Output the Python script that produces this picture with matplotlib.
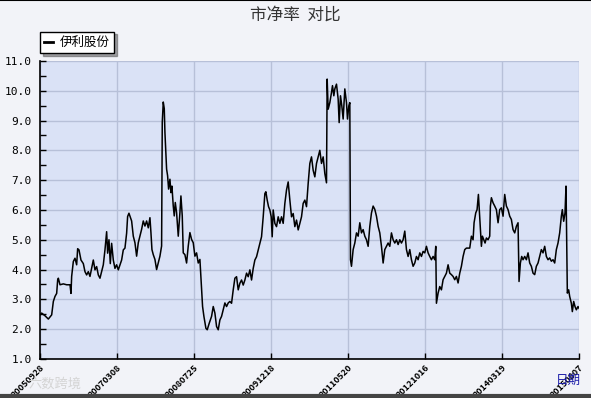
import numpy as np
import matplotlib
matplotlib.use("Agg")
import matplotlib.pyplot as plt
from matplotlib.lines import Line2D
from matplotlib.ticker import MultipleLocator

plt.rcParams['font.family'] = ['Noto Sans CJK SC', 'DejaVu Sans']

# trading-day index and price-to-book ratio, 伊利股份
days = [0, 5, 15, 25, 35, 40, 45, 50, 53, 55, 60, 70, 80, 90, 93, 95, 100, 105, 110, 113,
        117, 123, 130, 135, 140, 145, 150, 155, 160, 165, 170, 175, 180, 185, 190, 195, 200,
        203, 207, 211, 215, 220, 225, 230, 235, 240, 245, 250, 255, 260, 263, 267,
        275, 280, 285, 290, 295, 300, 305, 310, 315, 320, 325, 330, 333, 336, 340, 345, 350,
        355, 360, 365, 367, 370, 373, 375, 378, 380, 383, 386, 390, 393, 396, 400, 403, 406,
        410, 415, 420, 423, 427, 430, 435, 440, 445, 450, 455, 460, 465, 470, 475, 480, 485,
        488, 492, 498, 502, 508, 515, 520, 525, 530, 535, 540, 545, 550, 555, 560, 565, 570,
        575, 580, 585, 590, 595, 600, 605, 610, 615, 620, 625, 630, 635, 640, 645, 650, 655,
        660, 665, 670, 675, 678, 682, 686, 690, 694, 697, 700, 705, 710, 715, 720, 725, 730,
        735, 740, 745, 750, 755, 760, 765, 770, 775, 780, 785, 790, 795, 800, 805, 810, 815,
        820, 825, 830, 835, 840, 845, 850, 855,
        860, 862, 865, 870, 875, 878, 882, 885, 890, 895, 898, 902, 906, 910, 915, 920, 923,
        927, 930, 932, 935, 940, 945, 950, 955, 960, 965, 970, 975, 980, 985, 990, 995, 1000,
        1005, 1010, 1015, 1020, 1025, 1030, 1035, 1040, 1045, 1050, 1055, 1060, 1065, 1070,
        1075, 1080, 1085, 1090, 1095, 1100, 1105, 1110, 1115, 1120, 1125, 1130, 1135, 1140,
        1145, 1150, 1155, 1160, 1165, 1170, 1175, 1180, 1185, 1188, 1190, 1195, 1200, 1205,
        1210, 1215, 1220, 1225, 1230, 1235, 1240, 1245, 1250, 1255, 1260, 1265, 1270, 1275,
        1280, 1290, 1295, 1300, 1303, 1308, 1312, 1316, 1318, 1322, 1325, 1328, 1332, 1336,
        1340, 1345, 1350, 1352, 1355, 1360, 1365, 1370, 1375, 1380, 1385, 1390, 1395, 1400,
        1405, 1410, 1415, 1420, 1425, 1430, 1435, 1438, 1442, 1446, 1450, 1455, 1460, 1465,
        1470, 1475, 1480, 1485, 1490, 1495, 1500, 1505, 1510, 1515, 1520, 1525, 1530, 1535,
        1540, 1545, 1550, 1555, 1560, 1565, 1568, 1572, 1576, 1579, 1581, 1583, 1587, 1590,
        1595, 1598, 1602, 1606, 1610, 1615, 1618]

pb = [2.48, 2.54, 2.45, 2.34, 2.48, 2.93, 3.1, 3.2, 3.65, 3.71, 3.49, 3.52, 3.49, 3.49, 3.2,
      3.77, 4.27, 4.38, 4.16, 4.7, 4.66, 4.32, 4.2, 3.93, 3.82, 3.93, 3.77, 4.04, 4.32, 3.99,
      4.1, 3.82, 3.71, 3.93, 4.16, 4.66, 5.27, 4.55, 5.0, 4.2, 4.88, 4.32, 4.04, 4.16, 3.99,
      4.16, 4.32, 4.66, 4.72, 5.22, 5.78, 5.89,
      5.63, 5.12, 4.9, 4.45, 4.9, 5.12, 5.35, 5.63, 5.46, 5.63, 5.4, 5.74, 5.24, 4.67, 4.5,
      4.34, 4.0, 4.22, 4.45, 4.79, 8.94, 9.62, 9.4, 8.6, 7.82, 7.37, 7.15, 6.7, 7.03, 6.58,
      6.8, 6.13, 5.8, 6.25, 5.91, 5.12, 5.91, 6.47, 5.8, 4.56, 4.5, 4.22, 4.79, 5.24, 5.01,
      4.9, 4.45, 4.56, 4.22, 4.34, 3.33, 2.76, 2.43, 2.03, 1.98, 2.2, 2.43, 2.76, 2.54, 2.09,
      1.98, 2.31, 2.43, 2.65, 2.88, 2.76, 2.88, 2.93,
      2.87, 3.32, 3.71, 3.76, 3.32, 3.54, 3.65, 3.48, 3.65, 3.88, 3.76, 3.99, 3.65, 4.04,
      4.32, 4.43, 4.66, 4.88, 5.1, 5.77, 6.55, 6.61, 6.33, 6.11, 6.0, 5.77, 5.1, 6.0, 5.55,
      5.44, 5.77, 5.55, 5.77, 5.55, 6.22, 6.67, 6.94, 6.33, 5.77, 5.88, 5.44, 5.66, 5.33,
      5.55, 5.77, 6.22, 6.33, 6.11, 6.89, 7.56, 7.78, 7.33, 7.11, 7.56, 7.78, 8.0, 7.56,
      7.78, 7.22,
      6.91, 10.39, 9.38, 9.6, 9.94, 10.17, 9.83, 10.06, 10.22, 9.72, 8.93, 9.83, 9.49, 9.05,
      10.06, 9.6, 9.05, 9.49, 9.6, 4.33, 4.11, 4.67, 4.89, 5.23, 5.12, 5.57, 5.23, 5.34, 5.12,
      5.0, 4.78, 5.45, 5.9, 6.13, 6.02, 5.79, 5.45, 5.23, 4.78, 4.22, 4.67, 4.78, 4.89, 4.78,
      5.23, 5.0, 4.89, 5.0, 4.84, 5.0, 4.89, 5.0, 5.29, 4.67, 4.44, 4.67, 4.33, 4.11, 4.22,
      4.44, 4.33, 4.56, 4.44, 4.61, 4.56, 4.78, 4.56, 4.44, 4.33, 4.44, 4.33, 4.78, 2.87,
      3.21, 3.43, 3.32, 3.66, 3.77, 3.88, 4.16, 3.88, 3.83, 3.77, 3.66, 3.77, 3.55, 3.88,
      4.11, 4.44, 4.67, 4.72,
      4.72, 5.12, 5.0, 5.57, 5.9, 6.01, 6.52, 6.13, 5.34, 4.78, 5.12, 5.0, 4.89, 5.06, 5.0,
      5.12, 6.13, 6.41, 6.24, 6.13, 6.01, 5.57, 6.01, 6.07, 5.79, 6.52, 6.13, 6.01, 5.79,
      5.68, 5.34, 5.23, 5.45, 5.57, 3.6, 4.22, 4.44, 4.33, 4.44, 4.33, 4.56, 4.22, 4.11, 3.88,
      3.83, 4.11, 4.22, 4.44, 4.67, 4.56, 4.78, 4.44, 4.33, 4.39, 4.28, 4.33, 4.22, 4.67,
      4.89, 5.23, 5.79, 6.01, 5.62, 5.9, 6.8, 5.0, 3.21, 3.32, 3.1, 2.87, 2.59, 2.93, 2.76,
      2.65, 2.76, 2.7]

date_labels = ['20050928', '20070308', '20080725', '20091218', '20110520',
               '20121016', '20140319', '20150807']
last_day = 1618

fig = plt.figure(figsize=(5.91, 3.98), dpi=100, facecolor='#f2f3f8')
ax = fig.add_axes([0.0677, 0.098, 0.912, 0.749])
ax.set_facecolor('#dae2f6')

ax.plot(days, pb, color='black', linewidth=1.1, label='伊利股份')

ax.set_xlim(0, last_day)
ax.set_ylim(1.0, 11.0)
ax.set_xticks(np.linspace(0, last_day, len(date_labels)))
ax.set_xticklabels(date_labels, rotation=45, ha='right', va='top',
                   rotation_mode='anchor', fontsize=6.5, fontweight='bold')
ax.yaxis.set_major_locator(MultipleLocator(1.0))
ax.yaxis.set_minor_locator(MultipleLocator(0.5))
ax.set_yticklabels(['%.1f' % v for v in ax.get_yticks()], family='DejaVu Sans Mono', fontsize=8)
ax.tick_params(axis='both', which='both', direction='in', length=4, width=1, color='black')
ax.tick_params(axis='x', pad=3)
ax.tick_params(axis='y', pad=6)
ax.grid(True, which='major', color='#b7c0d8', linewidth=1)
ax.set_axisbelow(True)
for s in ['top', 'right']:
    ax.spines[s].set_visible(False)
ax.spines['left'].set_linewidth(1.2)
ax.spines['bottom'].set_linewidth(1.2)

leg = ax.legend(loc='lower left', bbox_to_anchor=(0.0, 1.025), frameon=True, fancybox=False,
                shadow=True, edgecolor='black', fontsize=9, handlelength=0.7,
                handletextpad=0.5, borderpad=0.35, borderaxespad=0)
leg.get_frame().set_linewidth(1)
for h in leg.get_lines():
    h.set_linewidth(2)

fig.text(0.5, 0.962, '市净率  对比', ha='center', va='center', fontsize=12, color='#333333')
fig.text(0.962, 0.043, '日期', ha='center', va='center', fontsize=9, color='#1a1aa8')
fig.text(0.093, 0.035, '六数跨境', ha='center', va='center', fontsize=9.5, color='#d4d4d4')

fig.add_artist(Line2D([0, 1], [0.999, 0.999], color='black', linewidth=1.5, transform=fig.transFigure))
fig.add_artist(Line2D([0, 1], [0.004, 0.004], color='#444444', linewidth=3, transform=fig.transFigure))

fig.savefig('out.png', dpi=100, facecolor=fig.get_facecolor())
